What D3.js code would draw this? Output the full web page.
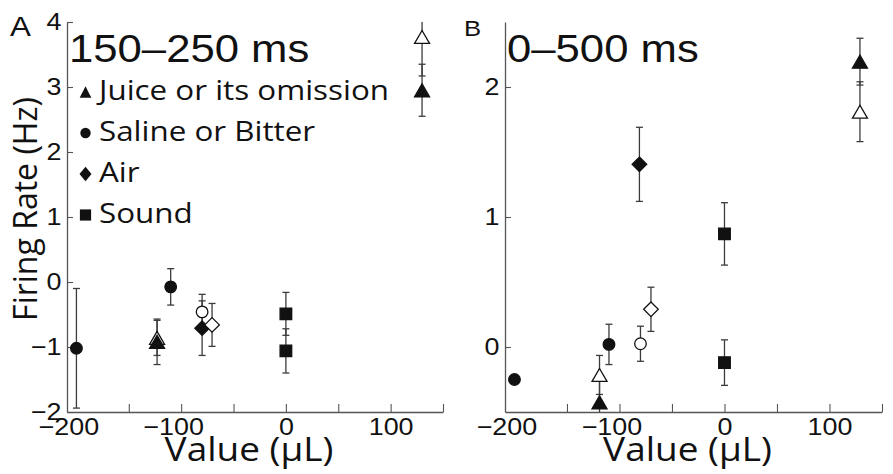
<!DOCTYPE html>
<html>
<head>
<meta charset="utf-8">
<script src="https://cdn.jsdelivr.net/npm/d3@7"></script>
<style>
  html, body { margin: 0; padding: 0; background: #fff; }
  svg { display: block; }
</style>
</head>
<body>
<svg id="chart" width="893" height="474"></svg>
<script>
// ---- data -------------------------------------------------------------
const legendShapes = ["triangle", "circle", "diamond", "square"];
const legendLabels = ["Juice or its omission", "Saline or Bitter", "Air", "Sound"];

const xTickValues = [-150, -100, -50, 0, 50, 100, 150];
const xTickLabels = [-200, -100, 0, 100];

// Panel A: 150–250 ms window
const aTitle = "150–250 ms";
const aYTicks = [-2, -1, 0, 1, 2, 3, 4];
const aX     = [-200, -123, -123, -110, -80, -80, -70.5, 0, 0, 130, 130];
const aY     = [-1.02, -0.86, -0.92, -0.075, -0.46, -0.71, -0.66, -0.49, -1.06, 3.77, 2.95];
const aErr   = [0.92, 0.27, 0.35, 0.28, 0.27, 0.42, 0.33, 0.33, 0.34, 0.6, 0.4];
const aShape = ["circle", "triangle", "triangle", "circle", "circle", "diamond", "diamond", "square", "square", "triangle", "triangle"];
const aFill  = [true, false, true, true, false, true, false, true, true, false, true];

// Panel B: 0–500 ms window
const bTitle = "0–500 ms";
const bYTicks = [0, 1, 2];
const bX     = [-200, -119, -119, -110, -80, -70, -81, 0, 0, 129, 129];
const bY     = [-0.25, -0.215, -0.425, 0.02, 0.025, 0.29, 1.405, 0.87, -0.12, 2.195, 1.81];
const bErr   = [0.03, 0.15, 0.2, 0.155, 0.135, 0.17, 0.285, 0.24, 0.175, 0.18, 0.23];
const bShape = ["circle", "triangle", "triangle", "circle", "circle", "diamond", "diamond", "square", "square", "triangle", "triangle"];
const bFill  = [true, false, true, true, false, false, true, true, true, true, false];

// ---- drawing ----------------------------------------------------------
const svg = d3.select("#chart");
const SX = 1.12;                       // horizontal text stretch
const NUM_FONT = "'Liberation Sans', Arial, Helvetica, sans-serif";
const LBL_FONT = "'Open Sans', 'Noto Sans', sans-serif";
const INK = "#111";
const AXIS = "#555";
const BAR = "#3c3c3c";
const intFmt = d3.format("d");

function markerPath(shape, s) {
  const p = d3.path();
  if (shape === "circle") {
    p.arc(0, 0, s.r, 0, 2 * Math.PI);
  } else if (shape === "square") {
    p.rect(-s.q, -s.q, 2 * s.q, 2 * s.q);
  } else if (shape === "diamond") {
    p.moveTo(0, -s.dh); p.lineTo(s.dw, 0); p.lineTo(0, s.dh); p.lineTo(-s.dw, 0); p.closePath();
  } else {
    p.moveTo(0, -s.th); p.lineTo(s.tw, s.th); p.lineTo(-s.tw, s.th); p.closePath();
  }
  return p.toString();
}

const dataMarker = { r: 5.8, q: 5.8, dw: 7.3, dh: 7.3, tw: 7.5, th: 6.5 };
const legendMarker = { r: 5.2, q: 5.6, dw: 6, dh: 7.3, tw: 5.8, th: 5.8 };

function stretchedText(parent, x, y, str, opts) {
  const t = parent.append("text")
    .attr("transform", `translate(${x},${y}) scale(${opts.sx || SX},1)`)
    .attr("font-family", opts.family)
    .attr("font-size", opts.size)
    .attr("fill", INK)
    .attr("text-anchor", opts.anchor || "start")
    .text(str);
  if (opts.spacing) t.attr("letter-spacing", opts.spacing);
  return t;
}

function drawPanel(cfg) {
  const g = svg.append("g");
  const x = d3.scaleLinear().domain([-209, 150]).range(cfg.xRange);
  const y = d3.scaleLinear().domain(cfg.yDomain).range([412, 22]);

  // y axis, ticks pointing inward
  const ya = g.append("g").attr("transform", `translate(${cfg.xRange[0]},0)`)
    .call(d3.axisLeft(y).tickValues(cfg.yTicks).tickFormat(intFmt)
      .tickSizeInner(-6).tickSizeOuter(0).tickPadding(5));
  // x axis ticks (unlabelled)
  const xa = g.append("g").attr("transform", "translate(0,412)")
    .call(d3.axisBottom(x).tickValues(xTickValues).tickFormat("").tickSizeInner(-8).tickSizeOuter(0));
  xa.selectAll(".tick text").remove();
  // x axis labels
  const xl = g.append("g").attr("transform", "translate(0,412)")
    .call(d3.axisBottom(x).tickValues(xTickLabels).tickFormat(intFmt).tickSize(0).tickPadding(6));
  xl.select(".domain").remove();
  xl.selectAll(".tick line").remove();

  [ya, xa].forEach(a => {
    a.select(".domain").attr("stroke", AXIS).attr("stroke-width", 1.3);
    a.selectAll(".tick line").attr("stroke", AXIS).attr("stroke-width", 1.1);
  });
  [ya, xl].forEach(a => {
    a.selectAll(".tick text")
      .attr("font-family", NUM_FONT).attr("font-size", 24).attr("fill", INK)
      .attr("transform", `scale(${SX},1)`);
  });
  xl.selectAll(".tick text").attr("dx", d => d < 0 ? "-0.3em" : null);

  // error bars (clipped to the plotted range) with caps
  const [lo, hi] = cfg.yDomain;
  const bars = g.append("g").attr("stroke", BAR).attr("stroke-width", 1.3).attr("fill", "none");
  cfg.xs.forEach((xv, i) => {
    const top = cfg.ys[i] + cfg.err[i], bot = cfg.ys[i] - cfg.err[i];
    const cx = x(xv);
    bars.append("line").attr("x1", cx).attr("x2", cx)
      .attr("y1", y(Math.min(top, hi))).attr("y2", y(Math.max(bot, lo)));
    if (top <= hi) bars.append("line").attr("x1", cx - 3.5).attr("x2", cx + 3.5).attr("y1", y(top)).attr("y2", y(top));
    if (bot >= lo) bars.append("line").attr("x1", cx - 3.5).attr("x2", cx + 3.5).attr("y1", y(bot)).attr("y2", y(bot));
  });

  // markers
  g.append("g").selectAll("path")
    .data(cfg.xs.map((xv, i) => ({ x: xv, y: cfg.ys[i], shape: cfg.shape[i], fill: cfg.fill[i] })))
    .join("path")
    .attr("transform", d => `translate(${x(d.x)},${y(d.y)})`)
    .attr("d", d => markerPath(d.shape, dataMarker))
    .attr("fill", d => d.fill ? INK : "#fff")
    .attr("stroke", INK)
    .attr("stroke-width", 1.3);

  // window title
  stretchedText(g, cfg.xRange[0] + 2, 62, cfg.title, { family: NUM_FONT, size: 39 });

  // panel letter
  stretchedText(g, cfg.letterX, 36, cfg.letter, { family: NUM_FONT, size: cfg.letterSize });

  // x axis title
  stretchedText(g, (cfg.xRange[0] + cfg.xRange[1]) / 2 - 6, 461, "Value (µL)", { family: LBL_FONT, size: 33, anchor: "middle" });

  return g;
}

const gA = drawPanel({
  xRange: [67, 443], yDomain: [-2, 4], yTicks: aYTicks, title: aTitle,
  letter: "A", letterX: 10, letterSize: 28,
  xs: aX, ys: aY, err: aErr, shape: aShape, fill: aFill
});
drawPanel({
  xRange: [505, 882], yDomain: [-0.5, 2.5], yTicks: bYTicks, title: bTitle,
  letter: "B", letterX: 464, letterSize: 23,
  xs: bX, ys: bY, err: bErr, shape: bShape, fill: bFill
});

// y axis title (shared, left side)
svg.append("text")
  .attr("transform", "translate(37,209) rotate(-90)")
  .attr("text-anchor", "middle")
  .attr("font-family", LBL_FONT).attr("font-size", 32).attr("fill", INK)
  .text("Firing Rate (Hz)");

// legend in panel A
const legend = gA.append("g");
legendShapes.forEach((s, i) => {
  const rowY = 100 + i * 41;
  legend.append("path")
    .attr("transform", `translate(85.5,${rowY - 8})`)
    .attr("d", markerPath(s, legendMarker))
    .attr("fill", INK);
  stretchedText(legend, 99, rowY, legendLabels[i], { family: LBL_FONT, size: 28 });
});
</script>
</body>
</html>
